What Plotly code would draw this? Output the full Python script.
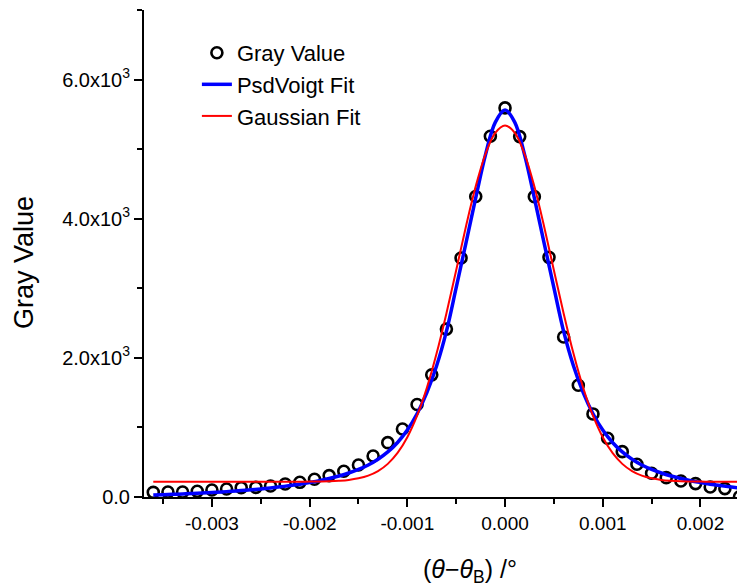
import plotly.graph_objects as go

# ---- observed data (Gray Value) ----
theta_obs = [-0.00360, -0.00345, -0.00330, -0.00315, -0.00300, -0.00285, -0.00270, -0.00255,
             -0.00240, -0.00225, -0.00210, -0.00195, -0.00180, -0.00165, -0.00150, -0.00135,
             -0.00120, -0.00105, -0.00090, -0.00075, -0.00060, -0.00045, -0.00030, -0.00015,
             0.00000, 0.00015, 0.00030, 0.00045, 0.00060, 0.00075, 0.00090, 0.00105,
             0.00120, 0.00135, 0.00150, 0.00165, 0.00180, 0.00195, 0.00210, 0.00225, 0.00240]
gray_obs = [67, 72, 72, 82, 101, 115, 134, 139,
            158, 187, 211, 255, 307, 370, 460, 590,
            781, 978, 1330, 1756, 2413, 3435, 4320, 5185,
            5593, 5180, 4317, 3445, 2300, 1607, 1194, 845,
            652, 470, 341, 278, 230, 192, 144, 120, 4]

# ---- fit curves ----
theta_fit = [-0.0036, -0.0035, -0.0034, -0.0033, -0.0032, -0.0031, -0.0030, -0.0029, -0.0028, -0.0027,
             -0.0026, -0.0025, -0.0024, -0.0023, -0.0022, -0.0021, -0.0020, -0.0019, -0.0018, -0.0017,
             -0.0016, -0.0015, -0.0014, -0.0013, -0.0012, -0.0011, -0.0010, -0.0009, -0.0008, -0.0007,
             -0.0006, -0.0005, -0.0004, -0.0003, -0.0002, -0.0001, 0.0000, 0.0001, 0.0002, 0.0003,
             0.0004, 0.0005, 0.0006, 0.0007, 0.0008, 0.0009, 0.0010, 0.0011, 0.0012, 0.0013,
             0.0014, 0.0015, 0.0016, 0.0017, 0.0018, 0.0019, 0.0020, 0.0021, 0.0022, 0.0023, 0.0024]
psdvoigt_fit = [28, 33, 38, 44, 50, 57, 64, 73, 82, 92,
                103, 116, 130, 146, 164, 184, 208, 234, 265, 302,
                345, 397, 461, 543, 648, 784, 963, 1197, 1501, 1886,
                2380, 3010, 3650, 4300, 4920, 5385, 5562, 5385, 4920, 4300,
                3650, 3010, 2380, 1886, 1501, 1197, 963, 784, 648, 543,
                461, 397, 345, 302, 265, 234, 208, 184, 164, 146, 130]
gaussian_fit = [220, 220, 220, 220, 220, 220, 220, 220, 220, 220,
                220, 220, 220, 220, 220, 220, 221, 223, 226, 233,
                245, 268, 307, 372, 476, 633, 859, 1168, 1570, 2065,
                2638, 3260, 3888, 4465, 4930, 5235, 5340, 5235, 4930, 4465,
                3888, 3260, 2638, 2065, 1570, 1168, 859, 633, 476, 372,
                307, 268, 245, 233, 226, 223, 221, 220, 220, 220, 220]

# ---- ticks ----
x_tickvals = [-0.003, -0.002, -0.001, 0.0, 0.001, 0.002]
x_ticktext = ["-0.003", "-0.002", "-0.001", "0.000", "0.001", "0.002"]
x_minorvals = [-0.0035, -0.0025, -0.0015, -0.0005, 0.0005, 0.0015]
y_tickvals = [0, 2000, 4000, 6000]
y_ticktext = ["0.0", "2.0x10<sup>3</sup>", "4.0x10<sup>3</sup>", "6.0x10<sup>3</sup>"]
y_minorvals = [1000, 3000, 5000, 7000]

FONT = "Liberation Sans, Arial, sans-serif"

fig = go.Figure()
fig.add_trace(go.Scatter(
    x=theta_obs, y=gray_obs, mode="markers", name="Gray Value",
    marker=dict(symbol="circle-open", size=11, color="black", line=dict(width=2.6, color="black")),
))
fig.add_trace(go.Scatter(
    x=theta_fit, y=psdvoigt_fit, mode="lines", name="PsdVoigt Fit",
    line=dict(color="#0000ff", width=3.5, shape="spline"),
))
fig.add_trace(go.Scatter(
    x=theta_fit, y=gaussian_fit, mode="lines", name="Gaussian Fit",
    line=dict(color="#ff0000", width=2, shape="spline"),
))

axis_common = dict(
    showline=True, linecolor="black", linewidth=2, mirror=False,
    showgrid=False, zeroline=False,
    ticks="outside", ticklen=8, tickwidth=2, tickcolor="black",
    tickmode="array",
)

fig.update_xaxes(
    range=[-0.003695, 0.002456],
    tickvals=x_tickvals, ticktext=x_ticktext,
    tickfont=dict(family=FONT, size=19, color="black"),
    minor=dict(tickmode="array", tickvals=x_minorvals, ticks="outside", ticklen=5, tickwidth=2, tickcolor="black"),
    **axis_common,
)
fig.update_yaxes(
    range=[0, 7000],
    tickvals=y_tickvals, ticktext=y_ticktext,
    tickfont=dict(family=FONT, size=20, color="black"),
    minor=dict(tickmode="array", tickvals=y_minorvals, ticks="outside", ticklen=5, tickwidth=2, tickcolor="black"),
    **axis_common,
)

# the page body has an 8 px margin, so the figure is offset by (8, 8)
fig.update_layout(
    width=737, height=579,
    margin=dict(l=136, r=0, t=2, b=90),
    paper_bgcolor="white", plot_bgcolor="white",
    font=dict(family=FONT, color="black"),
    showlegend=True,
    legend=dict(
        x=0.088, y=0.955, xanchor="left", yanchor="top",
        bgcolor="rgba(0,0,0,0)", borderwidth=0,
        font=dict(family=FONT, size=22, color="black"),
        tracegroupgap=0,
    ),
    annotations=[
        dict(text="Gray Value", xref="paper", yref="paper", x=-0.1997, y=0.4825,
             xanchor="center", yanchor="middle", textangle=-90, showarrow=False,
             font=dict(family=FONT, size=27, color="black")),
        dict(text="(<i>θ</i>−<i>θ</i><sub>B</sub>) /°", xref="paper", yref="paper", x=0.5424, y=-0.152,
             xanchor="center", yanchor="middle", showarrow=False,
             font=dict(family=FONT, size=25, color="black")),
    ],
)

fig.write_html("out.html")
